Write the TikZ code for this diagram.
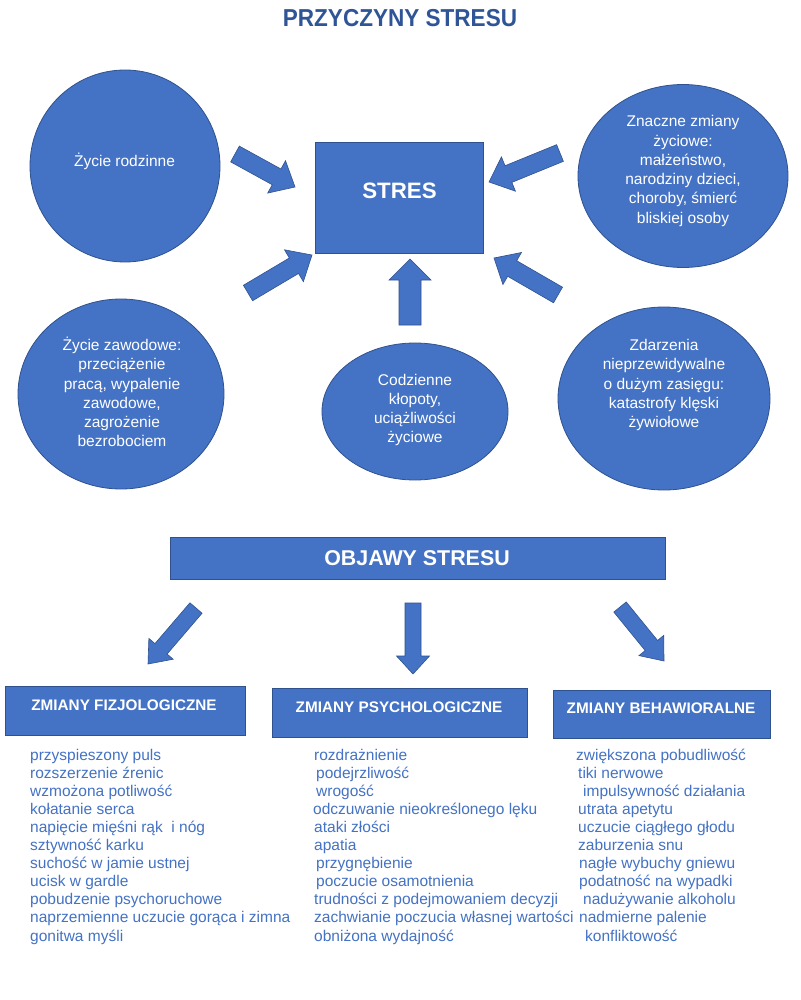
\documentclass[tikz,border=0pt]{standalone}
\usepackage{fontspec}
\setmainfont{Liberation Sans}
\usetikzlibrary{shapes.geometric,calc}
\definecolor{obox}{HTML}{4472C4}
\definecolor{oline}{HTML}{2F528F}
\definecolor{otitle}{HTML}{2F5597}
\definecolor{olist}{HTML}{4472C4}
\newcommand\blockarr[5]{%
  \coordinate (bLx) at ($(#2)!#5!(#1)$);
  \draw[harrow] ($(#1)!#3!90:(#2)$) -- ($(bLx)!#3!90:(#2)$) -- ($(bLx)!#4!90:(#2)$) -- (#2)
     -- ($(bLx)!#4!-90:(#2)$) -- ($(bLx)!#3!-90:(#2)$) -- ($(#1)!#3!-90:(#2)$) -- cycle;
}
\begin{document}
\begin{tikzpicture}[x=1pt,y=-1pt,
  blob/.style={ellipse, fill=obox, draw=oline, line width=0.8pt, inner sep=0pt},
  bx/.style={rectangle, fill=obox, draw=oline, line width=0.8pt, inner sep=0pt},
  wtxt/.style={text=white, font=\fontsize{15.5}{19.3}\selectfont, align=center, inner sep=0pt},
  htxt/.style={text=white, font=\fontsize{15.3}{18}\selectfont\bfseries, inner sep=0pt},
  ltxt/.style={text=olist, font=\fontsize{15.5}{18}\selectfont, inner sep=0pt, anchor=base west},
  harrow/.style={fill=obox, draw=oline, line width=0.6pt, line join=miter}
]
\useasboundingbox[fill=white] (0,0) rectangle (800,1000);

% title
\node[text=otitle, inner sep=0pt] (title) at (400,18.5) {\fontsize{24.5}{28}\selectfont\bfseries\scalebox{0.92}[1]{PRZYCZYNY STRESU}};

% central box
\node[bx, minimum width=168pt, minimum height=111pt] (stres) at (399,197.5) {};
\node[htxt, font=\fontsize{22.3}{26}\selectfont\bfseries] (stresT) at (399.5,191) {STRES};

% circles
\node[blob, minimum width=190pt, minimum height=192pt] (c1) at (125,166) {};
\node[wtxt] (c1t) at (124.5,161) {Życie rodzinne};
\node[blob, minimum width=210pt, minimum height=183pt] (c2) at (683,176) {};
\node[wtxt] (c2t) at (683,171) {Znaczne zmiany\\życiowe:\\małżeństwo,\\narodziny dzieci,\\choroby, śmierć\\bliskiej osoby};
\node[blob, minimum width=206pt, minimum height=190pt] (c3) at (121,394) {};
\node[wtxt] (c3t) at (122,392) {Życie zawodowe:\\przeciążenie\\pracą, wypalenie\\zawodowe,\\zagrożenie\\bezrobociem};
\node[blob, minimum width=186pt, minimum height=137pt] (c4) at (415,411.5) {};
\node[wtxt] (c4t) at (415,410) {Codzienne\\kłopoty,\\uciążliwości\\życiowe};
\node[blob, minimum width=212pt, minimum height=183pt] (c5) at (664,398.5) {};
\node[wtxt] (c5t) at (664,385) {Zdarzenia\\nieprzewidywalne\\o dużym zasięgu:\\katastrofy klęski\\żywiołowe};

% arrows to STRES
\coordinate (a1s) at (235,154); \coordinate (a1e) at (295,187);
\coordinate (a2s) at (248,293); \coordinate (a2e) at (312,255);
\coordinate (a3s) at (410,325); \coordinate (a3e) at (410,259);
\coordinate (a4s) at (560,153); \coordinate (a4e) at (489,182);
\coordinate (a5s) at (558,295); \coordinate (a5e) at (494,258);
\blockarr{a1s}{a1e}{9pt}{18.5pt}{21pt}
\blockarr{a2s}{a2e}{9pt}{18.5pt}{21pt}
\blockarr{a3s}{a3e}{11pt}{21pt}{21pt}
\blockarr{a4s}{a4e}{9pt}{18.5pt}{21pt}
\blockarr{a5s}{a5e}{9pt}{18.5pt}{21pt}

% OBJAWY
\node[bx, minimum width=495pt, minimum height=42pt] (obj) at (417.5,558) {};
\node[htxt, font=\fontsize{21.4}{25}\selectfont\bfseries] (objT) at (417,558) {OBJAWY STRESU};

% arrows down
\coordinate (d1s) at (196,608); \coordinate (d1e) at (148,664);
\coordinate (d2s) at (413,603); \coordinate (d2e) at (413,674);
\coordinate (d3s) at (620,607); \coordinate (d3e) at (664,661);
\blockarr{d1s}{d1e}{8pt}{16pt}{20pt}
\blockarr{d2s}{d2e}{8pt}{16.5pt}{18pt}
\blockarr{d3s}{d3e}{8pt}{16pt}{20pt}

% category boxes
\node[bx, minimum width=240pt, minimum height=49pt] (fiz) at (125,710.5) {};
\node[htxt] (fizT) at (124,705) {ZMIANY FIZJOLOGICZNE};
\node[bx, minimum width=255pt, minimum height=49pt] (psy) at (399.5,712.5) {};
\node[htxt] (psyT) at (399,707) {ZMIANY PSYCHOLOGICZNE};
\node[bx, minimum width=217pt, minimum height=48pt] (beh) at (661.5,714) {};
\node[htxt] (behT) at (661,708) {ZMIANY BEHAWIORALNE};

% lists
\foreach \t [count=\i] in {przyspieszony puls, rozszerzenie źrenic, wzmożona potliwość, kołatanie serca, napięcie mięśni rąk\ \ i nóg, sztywność karku, suchość w jamie ustnej, ucisk w gardle, pobudzenie psychoruchowe, naprzemienne uczucie gorąca i zimna, gonitwa myśli}
  \node[ltxt] (fl\i) at (30,{760+18.1*(\i-1)}) {\t};

\foreach \xx/\t [count=\i] in {314/rozdrażnienie, 316/podejrzliwość, 316/wrogość, 313/odczuwanie nieokreślonego lęku, 314/ataki złości, 314/apatia, 316/przygnębienie, 316/poczucie osamotnienia, 314/trudności z podejmowaniem decyzji, 314/zachwianie poczucia własnej wartości, 314/obniżona wydajność}
  \node[ltxt] (pl\i) at (\xx,{760+18.1*(\i-1)}) {\t};

\foreach \xx/\t [count=\i] in {576/zwiększona pobudliwość, 578/tiki nerwowe, 583/impulsywność działania, 578/utrata apetytu, 578/uczucie ciągłego głodu, 578/zaburzenia snu, 579/nagłe wybuchy gniewu, 579/podatność na wypadki, 583/nadużywanie alkoholu, 579/nadmierne palenie, 585/konfliktowość}
  \node[ltxt] (bl\i) at (\xx,{760+18.1*(\i-1)}) {\t};
\end{tikzpicture}
\end{document}
